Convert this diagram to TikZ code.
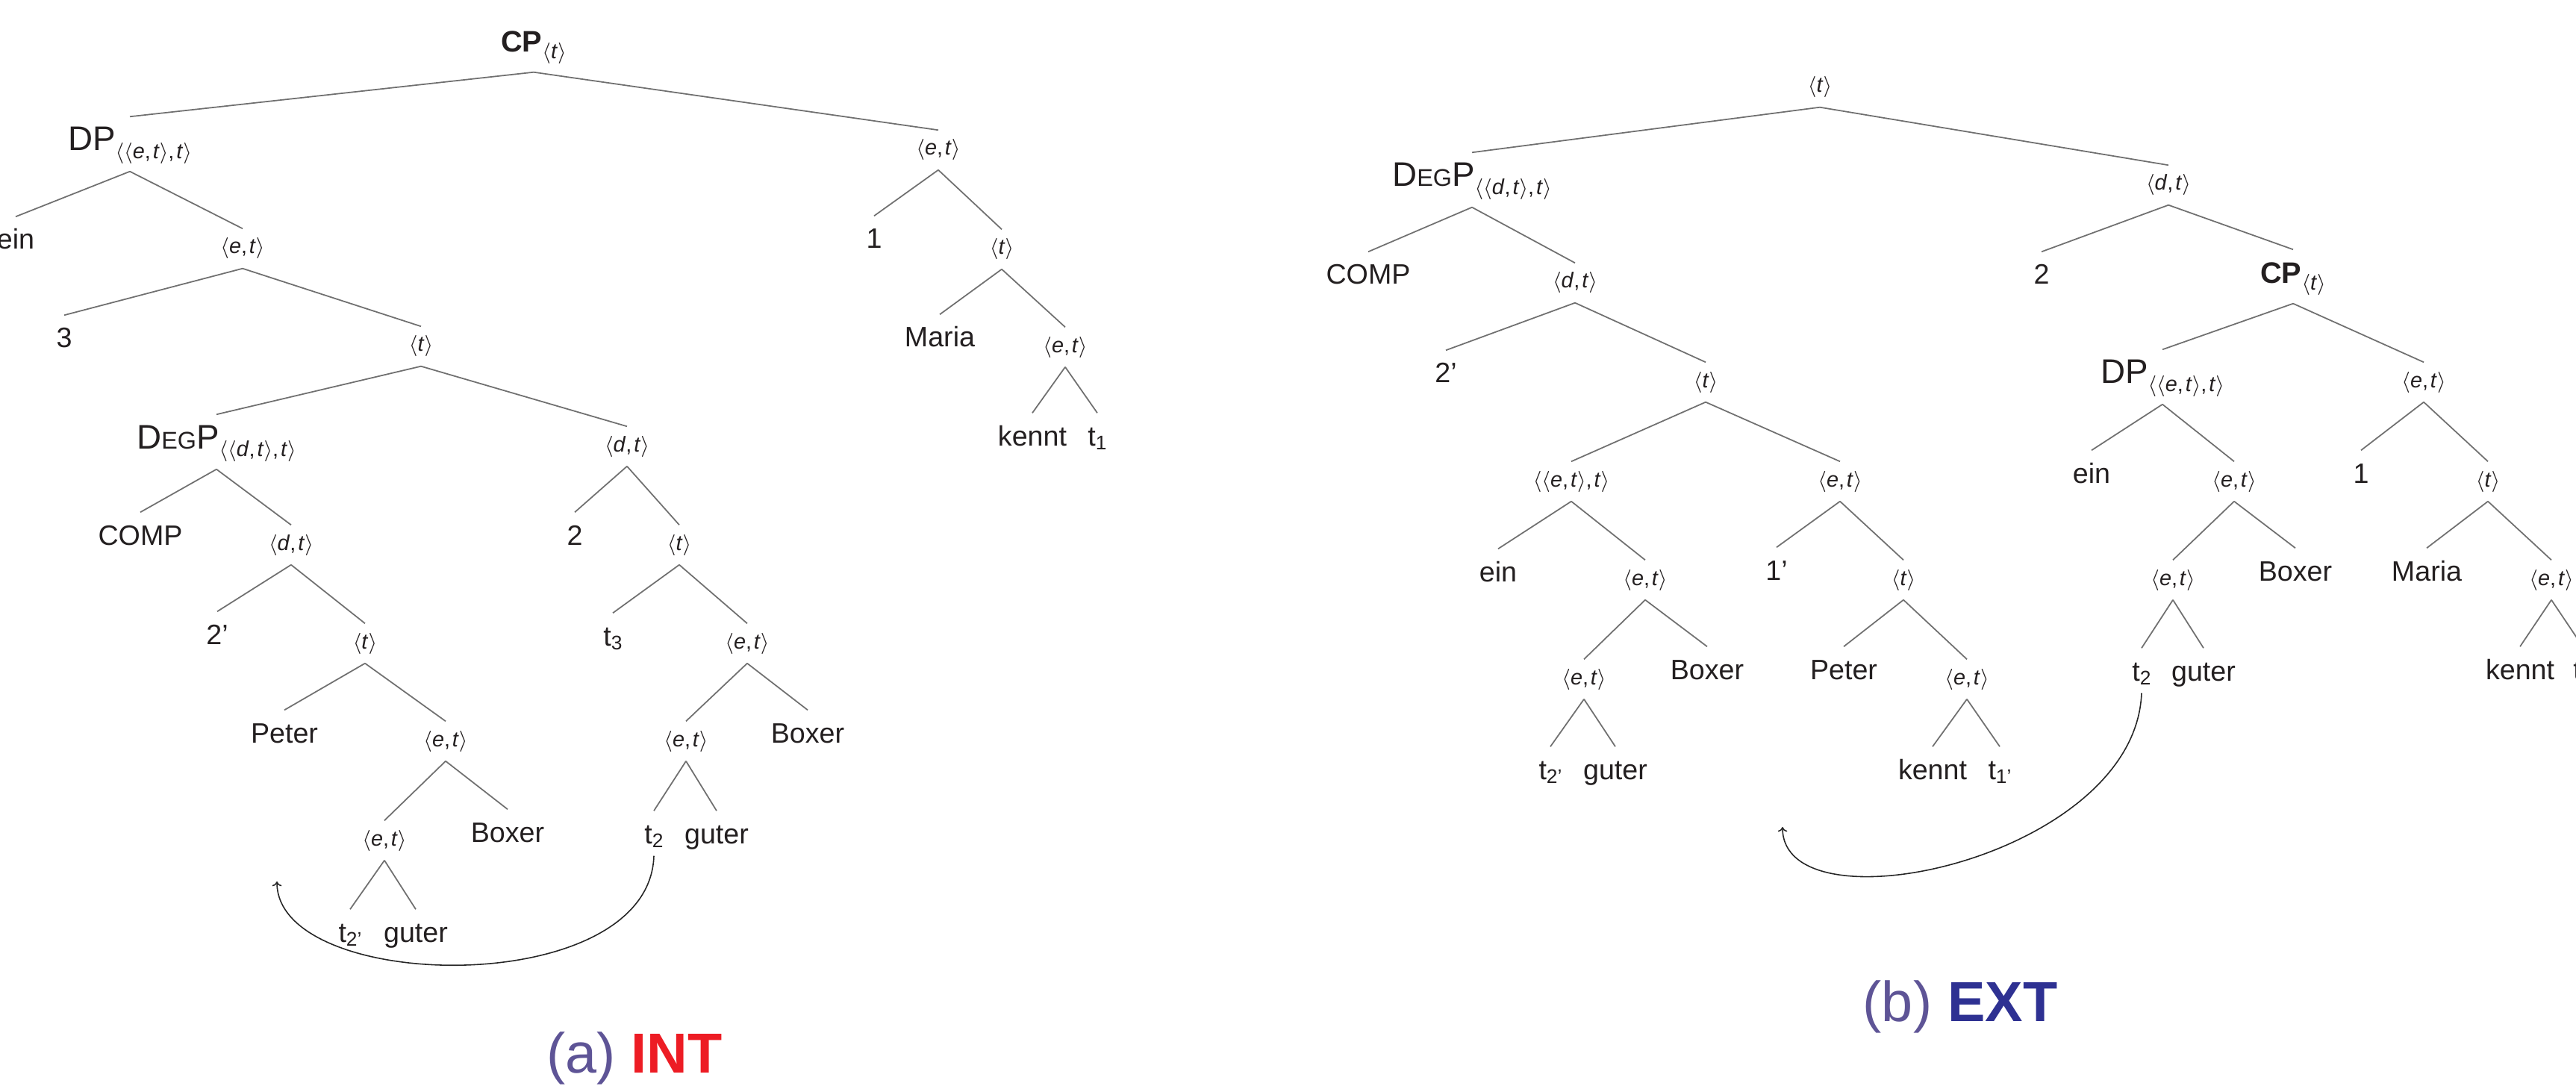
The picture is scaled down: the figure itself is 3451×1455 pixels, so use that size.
\documentclass[tikz,border=0pt]{standalone}
\usepackage{fontspec}
\setmainfont{Liberation Sans}
\usetikzlibrary{arrows.meta}
\definecolor{capP}{RGB}{94,84,150}
\definecolor{intR}{RGB}{237,28,36}
\definecolor{extB}{RGB}{46,49,146}
\definecolor{txt}{RGB}{35,31,32}
\definecolor{brc}{RGB}{112,112,112}
\newcommand{\tyf}{\fontsize{8.2}{9}\selectfont}
\newcommand{\an}[1]{\ensuremath{\langle}#1\ensuremath{\rangle}}
\newcommand{\cma}{,\kern0.1em}
\newcommand{\tyet}{\an{\textit{e}\cma\textit{t}}}
\newcommand{\tydt}{\an{\textit{d}\cma\textit{t}}}
\newcommand{\tyt}{\an{\textit{t}}}
\newcommand{\tyett}{\an{\an{\textit{e}\cma\textit{t}}\cma\textit{t}}}
\newcommand{\tydtt}{\an{\an{\textit{d}\cma\textit{t}}\cma\textit{t}}}
\newcommand{\trace}[1]{t\raisebox{-1.5pt}{\fontsize{7.5}{8}\selectfont #1}}
\newcommand{\cpl}{{\fontsize{11.3}{13}\selectfont\bfseries CP}\raisebox{-2.5pt}{\tyf\tyt}}
\newcommand{\dpl}{{\fontsize{13}{14}\selectfont DP}\raisebox{-3pt}{\tyf\tyett}}
\newcommand{\degl}{{\fontsize{13}{14}\selectfont D{\fontsize{9.2}{10}\selectfont EG}P}\raisebox{-3pt}{\tyf\tydtt}}
\begin{document}
\begin{tikzpicture}[x=0.01cm, y=-0.01cm,
  lf/.style={font=\fontsize{10.7}{12}\selectfont, anchor=base, text height=0.27cm, text depth=0pt, inner xsep=1pt, inner ysep=0.16cm, text=txt},
  ty/.style={font=\tyf, anchor=base, text height=0.21cm, text depth=0.07cm, inner xsep=1pt, inner ysep=0.12cm, text=txt},
  ph/.style={anchor=base, text height=0.33cm, text depth=0.15cm, inner xsep=1pt, inner ysep=0.12cm, text=txt},
  cpn/.style={anchor=base, text height=0.29cm, text depth=0.10cm, inner xsep=1pt, inner ysep=0.16cm, text=txt},
  capt/.style={anchor=base, font=\fontsize{21.5}{24}\selectfont, inner sep=0pt},
  br/.style={draw=brc, line width=0.5pt},
  mv/.style={draw=black!85, line width=0.45pt, -{To[length=1.8pt,width=3.6pt]}}]
\useasboundingbox (0,0) rectangle (3451,1455);
\clip (0,0) rectangle (3451,1455);
% ---------------- (a) INT ----------------
\node[cpn] (CPa) at (715,70) {\cpl};
\node[ph] (DPa) at (174,202) {\dpl};
\node[lf] (eina) at (21,334) {ein};
\node[ty] (eta1) at (325,340) {\tyet};
\node[lf] (threea) at (86,466) {3};
\node[ty] (ta1) at (564,471) {\tyt};
\node[ph] (DEGa) at (290,601) {\degl};
\node[ty] (dta1) at (840,605) {\tydt};
\node[lf] (COMPa) at (188,730) {COMP};
\node[ty] (dta2) at (390,737) {\tydt};
\node[lf] (twoa) at (770,730) {2};
\node[ty] (ta2) at (910,737) {\tyt};
\node[lf] (twopa) at (291,863) {2’};
\node[ty] (ta3) at (489,869) {\tyt};
\node[lf] (t3a) at (821,865) {\trace{3}};
\node[ty] (eta3) at (1001,869) {\tyet};
\node[lf] (Petera) at (381,995) {Peter};
\node[ty] (eta4) at (597,1000) {\tyet};
\node[ty] (eta5) at (919,1000) {\tyet};
\node[lf] (Boxera1) at (1082,995) {Boxer};
\node[ty] (eta6) at (515,1133) {\tyet};
\node[lf] (Boxera2) at (680,1128) {Boxer};
\node[lf] (t2a) at (876,1130) {\trace{2}};
\node[lf] (gutera1) at (960,1130) {guter};
\node[lf] (t2pa) at (469,1262) {\trace{2’}};
\node[lf] (gutera2) at (557,1262) {guter};
\node[ty] (etar) at (1257,208) {\tyet};
\node[lf] (onea) at (1171,333) {1};
\node[ty] (tar) at (1342,341) {\tyt};
\node[lf] (Mariaa) at (1259,465) {Maria};
\node[ty] (etar2) at (1427,472) {\tyet};
\node[lf] (kennta) at (1383,597) {kennt};
\node[lf] (t1a) at (1470,597) {\trace{1}};
\foreach \p/\c in {CPa/DPa, CPa/etar, DPa/eina, DPa/eta1, eta1/threea, eta1/ta1,
  ta1/DEGa, ta1/dta1, DEGa/COMPa, DEGa/dta2, dta2/twopa, dta2/ta3, ta3/Petera, ta3/eta4,
  eta4/eta6, eta4/Boxera2, eta6/t2pa, eta6/gutera2, dta1/twoa, dta1/ta2, ta2/t3a, ta2/eta3,
  eta3/eta5, eta3/Boxera1, eta5/t2a, eta5/gutera1, etar/onea, etar/tar, tar/Mariaa, tar/etar2,
  etar2/kennta, etar2/t1a}
  \draw[br] (\p.south) -- (\c.north);
\coordinate (tipa) at (371,1181);
\draw[mv] (t2a.south) .. controls +(-6,194) and +(0,150) .. (tipa);
\node[capt] (capa) at (850,1437) {\textcolor{capP}{(a)} \textcolor{intR}{\bfseries INT}};
% ---------------- (b) EXT ----------------
\node[ty] (tb0) at (2438,124) {\tyt};
\node[ph] (DEGb) at (1972,250) {\degl};
\node[ty] (dtb0) at (2905,255) {\tydt};
\node[lf] (COMPb) at (1833,381) {COMP};
\node[ty] (dtb1) at (2110,386) {\tydt};
\node[lf] (twob) at (2735,381) {2};
\node[cpn] (CPb) at (3072,380) {\cpl};
\node[lf] (twopb) at (1937,513) {2’};
\node[ty] (tb1) at (2285,519) {\tyt};
\node[ph] (DPb) at (2897,514) {\dpl};
\node[ty] (etb1) at (3247,519) {\tyet};
\node[ty] (eettb) at (2105,652) {\tyett};
\node[ty] (etb2) at (2465,652) {\tyet};
\node[lf] (einb1) at (2802,647) {ein};
\node[ty] (etb3) at (2993,652) {\tyet};
\node[lf] (oneb) at (3163,647) {1};
\node[ty] (tb2) at (3333,652) {\tyt};
\node[lf] (einb2) at (2007,779) {ein};
\node[ty] (etb4) at (2204,784) {\tyet};
\node[lf] (onepb) at (2380,777) {1’};
\node[ty] (tb3) at (2550,784) {\tyt};
\node[ty] (etb5) at (2911,784) {\tyet};
\node[lf] (Boxerb1) at (3075,778) {Boxer};
\node[lf] (Mariab) at (3251,778) {Maria};
\node[ty] (etb6) at (3418,784) {\tyet};
\node[ty] (etb7) at (2122,917) {\tyet};
\node[lf] (Boxerb2) at (2287,910) {Boxer};
\node[lf] (Peterb) at (2470,910) {Peter};
\node[ty] (etb8) at (2635,917) {\tyet};
\node[lf] (t2b) at (2869,912) {\trace{2}};
\node[lf] (guterb1) at (2952,912) {guter};
\node[lf] (kenntb1) at (3376,910) {kennt};
\node[lf] (t1b) at (3460,910) {\trace{1}};
\node[lf] (t2pb) at (2077,1044) {\trace{2’}};
\node[lf] (guterb2) at (2164,1044) {guter};
\node[lf] (kenntb2) at (2589,1044) {kennt};
\node[lf] (t1pb) at (2679,1044) {\trace{1’}};
\foreach \p/\c in {tb0/DEGb, tb0/dtb0, DEGb/COMPb, DEGb/dtb1, dtb1/twopb, dtb1/tb1,
  tb1/eettb, tb1/etb2, eettb/einb2, eettb/etb4, etb4/etb7, etb4/Boxerb2, etb7/t2pb, etb7/guterb2,
  etb2/onepb, etb2/tb3, tb3/Peterb, tb3/etb8, etb8/kenntb2, etb8/t1pb, dtb0/twob, dtb0/CPb,
  CPb/DPb, CPb/etb1, DPb/einb1, DPb/etb3, etb3/etb5, etb3/Boxerb1, etb5/t2b, etb5/guterb1,
  etb1/oneb, etb1/tb2, tb2/Mariab, tb2/etb6, etb6/kenntb1, etb6/t1b}
  \draw[br] (\p.south) -- (\c.north);
\coordinate (tipb) at (2388,1108);
\draw[mv] (t2b.south) .. controls +(-9,222) and +(0,142) .. (tipb);
\node[capt] (captb) at (2626,1368) {\textcolor{capP}{(b)} \textcolor{extB}{\bfseries EXT}};
\end{tikzpicture}
\end{document}
